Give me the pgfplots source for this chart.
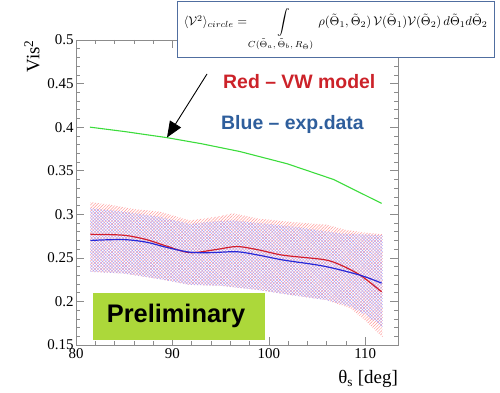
\documentclass[border=0pt]{standalone}
\usepackage{fontspec}
\setmainfont{Liberation Serif}
\setsansfont{Liberation Sans}
\usepackage{graphicx}
\usepackage{amsmath}
\usepackage{pgfplots}
\pgfplotsset{compat=1.18}
\usetikzlibrary{patterns.meta,arrows.meta}
\definecolor{redtxt}{RGB}{204,34,41}
\definecolor{bluetxt}{RGB}{46,94,156}
\definecolor{redline}{RGB}{210,30,45}
\definecolor{blueline}{RGB}{40,40,215}
\definecolor{greenline}{RGB}{60,220,60}
\definecolor{prelim}{RGB}{172,216,58}
\definecolor{boxborder}{RGB}{80,110,160}
\definecolor{axgray}{RGB}{140,140,140}

\begin{document}
\begin{tikzpicture}[x=1bp,y=1bp]
\useasboundingbox (0,0) rectangle (500,392);
\begin{axis}[
  at={(76bp,47bp)}, anchor=south west,
  scale only axis, width=322bp, height=305bp,
  xmin=80, xmax=113.4, ymin=0.15, ymax=0.5,
  xtick={80,90,100,110},
  ytick={0.15,0.2,0.25,0.3,0.35,0.4,0.45,0.5},
  minor x tick num=4, minor y tick num=4,
  tick align=inside,
  major tick length=8bp, minor tick length=4bp,
  axis line style={axgray, line width=0.8bp},
  every tick/.style={axgray, line width=0.6bp},
  tick label style={font=\fontsize{15}{15}\selectfont, black},
  /pgf/number format/assume math mode=true,
  yticklabel style={xshift=1bp},
  clip=true,
]
% red band (VW model)
\addplot[draw=none, pattern={Lines[angle=45,distance=2.2bp,line width=0.5bp]}, pattern color=red!40] coordinates {
 (81.5,0.314) (83.5,0.311) (86,0.306) (88.7,0.303) (91.8,0.293) (94.5,0.297) (96.3,0.301)
 (99,0.295) (102.5,0.291) (106,0.288) (108,0.282) (110,0.279) (111.8,0.277)
 (111.8,0.159) (110,0.178) (108.5,0.192) (106,0.2015) (102.5,0.207) (99,0.213) (95,0.218)
 (91.8,0.219) (89,0.225) (85,0.232) (81.5,0.234)
} -- cycle;
% blue band (exp. data)
\addplot[draw=none, pattern={Lines[angle=-45,distance=2.2bp,line width=0.5bp]}, pattern color=blue!35] coordinates {
 (81.5,0.307) (85,0.303) (88.7,0.297) (91.8,0.289) (94.5,0.292) (96.3,0.293)
 (99,0.290) (102.5,0.286) (105,0.282) (107.5,0.278) (111.8,0.276)
 (111.8,0.171) (110,0.185) (108.5,0.194) (106,0.2015) (102.5,0.207) (99,0.213) (95,0.218)
 (91.8,0.219) (89,0.225) (85,0.232) (81.5,0.234)
} -- cycle;
% green
\addplot[greenline, line width=1.1bp] coordinates {
 (81.45,0.400) (85,0.395) (89.4,0.388) (93,0.381) (97,0.372) (101.9,0.358) (106.7,0.340) (111.7,0.3125)
};
% red line
\addplot[redline, line width=1.2bp, smooth] coordinates {
 (81.5,0.277) (84.9,0.276) (87.3,0.271) (89.4,0.2635) (91.8,0.256) (94.5,0.2595) (96.7,0.263)
 (99,0.259) (101.5,0.253) (105.7,0.248) (107.4,0.242) (109.5,0.230) (111.7,0.211)
};
% blue line
\addplot[blueline, line width=1.2bp, smooth] coordinates {
 (81.5,0.270) (84.9,0.271) (87.3,0.268) (89.4,0.262) (91.8,0.2565) (94,0.256) (96.7,0.257)
 (99,0.253) (101.5,0.2475) (105.7,0.2405) (109.5,0.230) (111.7,0.221)
};
\end{axis}
% axis labels
\node[rotate=90, anchor=east, font=\fontsize{19}{19}\selectfont, inner sep=0pt] at (32,352) {Vis\textsuperscript{2}};
\node[anchor=east, font=\fontsize{19}{19}\selectfont, inner sep=0pt] at (398,13) {θ\textsubscript{s} [deg]};
% Preliminary box
\fill[prelim] (92.7,52) rectangle (265,98.7);
\node[font=\sffamily\bfseries\fontsize{25.5}{25.5}\selectfont] at (176,76) {Preliminary};
% legend texts
\node[anchor=west, font=\sffamily\bfseries\fontsize{19.5}{19.5}\selectfont, text=redtxt, inner sep=0pt] at (223,310) {Red – VW model};
\node[anchor=west, font=\sffamily\bfseries\fontsize{19.5}{19.5}\selectfont, text=bluetxt, inner sep=0pt] at (221,268) {Blue – exp.data};
% formula box
\draw[boxborder, line width=1bp, fill=white] (177,335) rectangle (494,390);
\node at (335.5,362) {\resizebox{304bp}{!}{$\langle\mathcal{V}^2\rangle_{circle}=\displaystyle\int\limits_{C(\tilde\Theta_a,\,\tilde\Theta_b,\,R_{\tilde\Theta})}\rho(\tilde\Theta_1,\tilde\Theta_2)\,\mathcal{V}(\tilde\Theta_1)\mathcal{V}(\tilde\Theta_2)\,d\tilde\Theta_1 d\tilde\Theta_2$}};
% arrow
\draw[black, line width=0.9bp, -{Triangle[length=16bp,width=13bp]}] (207,318) -- (167,254.5);
\end{tikzpicture}
\end{document}
